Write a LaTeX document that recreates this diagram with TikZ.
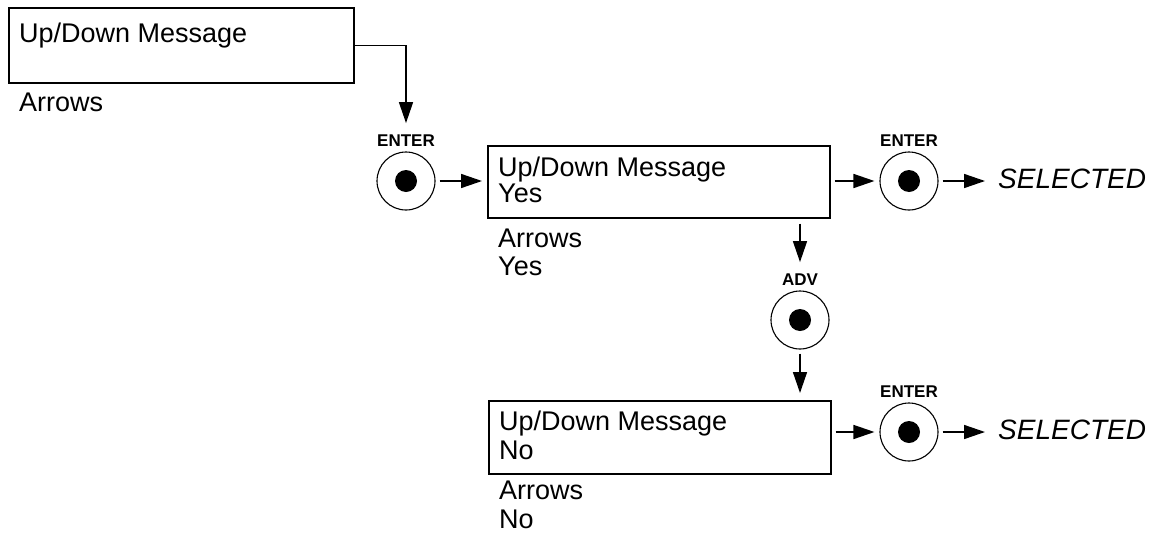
\documentclass[tikz,border=0pt]{standalone}
\usepackage{fontspec}
\setmainfont{Liberation Sans}
\usetikzlibrary{arrows.meta}
\begin{document}
\begin{tikzpicture}[x=1pt,y=-1pt,
  box/.style={draw, line width=1.5pt, inner sep=0pt, anchor=north west},
  txt/.style={anchor=base west, inner sep=0pt, font=\fontsize{27}{31}\selectfont},
  btn/.style={circle, draw, line width=1.1pt, minimum size=58pt, inner sep=0pt,
    path picture={\fill (path picture bounding box.center) circle (11pt);}},
  blab/.style={anchor=base, inner sep=0pt, font=\bfseries\fontsize{17}{20}\selectfont},
  sel/.style={anchor=west, inner sep=0pt, font=\itshape\fontsize{28}{32}\selectfont},
  conn/.style={line width=1.5pt, -{Triangle[length=21pt,width=14pt]}}]
\useasboundingbox (0,0) rectangle (1157,536);

% boxes
\node[box, minimum width=345pt, minimum height=75pt] (b1) at (8,7) {};
\node[box, minimum width=342pt, minimum height=72pt] (b2) at (487,145) {};
\node[box, minimum width=342pt, minimum height=73pt] (b3) at (488,400) {};

% texts
\node[txt] (t1a) at (19,42) {Up/Down Message};
\node[txt] (t1b) at (19,111) {Arrows};
\node[txt] (t2a) at (498,176) {Up/Down Message};
\node[txt] (t2b) at (498,202) {Yes};
\node[txt] (t2c) at (498,247) {Arrows};
\node[txt] (t2d) at (498,275) {Yes};
\node[txt] (t3a) at (499,430) {Up/Down Message};
\node[txt] (t3b) at (499,459) {No};
\node[txt] (t3c) at (499,499) {Arrows};
\node[txt] (t3d) at (499,528) {No};

% buttons
\node[btn] (c1) at (406,181) {};
\node[btn] (c2) at (909,181) {};
\node[btn] (adv) at (800,320) {};
\node[btn] (c3) at (909,432) {};
\node[blab] (l1) at (406,146) {ENTER};
\node[blab] (l2) at (909,146) {ENTER};
\node[blab] (ladv) at (800,285) {ADV};
\node[blab] (l3) at (909,397) {ENTER};

% results
\node[sel] (s1) at (998,179) {SELECTED};
\node[sel] (s2) at (998,430) {SELECTED};

% connectors
\draw[conn, shorten >=11pt] (b1.east) -| (l1.north);
\draw[conn, shorten <=4pt, shorten >=5pt] (c1) -- (c1 -| b2.west);
\draw[conn, shorten <=4pt, shorten >=5pt] (b2.east |- c2) -- (c2);
\draw[conn, shorten <=4pt, shorten >=13pt] (c2) -- (s1.west |- c2);
\draw[conn, shorten <=5pt, shorten >=11pt] (b2.south -| adv) -- (ladv.north);
\draw[conn, shorten <=4pt, shorten >=7pt] (adv) -- (adv |- b3.north);
\draw[conn, shorten <=4pt, shorten >=5pt] (b3.east |- c3) -- (c3);
\draw[conn, shorten <=4pt, shorten >=13pt] (c3) -- (s2.west |- c3);
\end{tikzpicture}
\end{document}
